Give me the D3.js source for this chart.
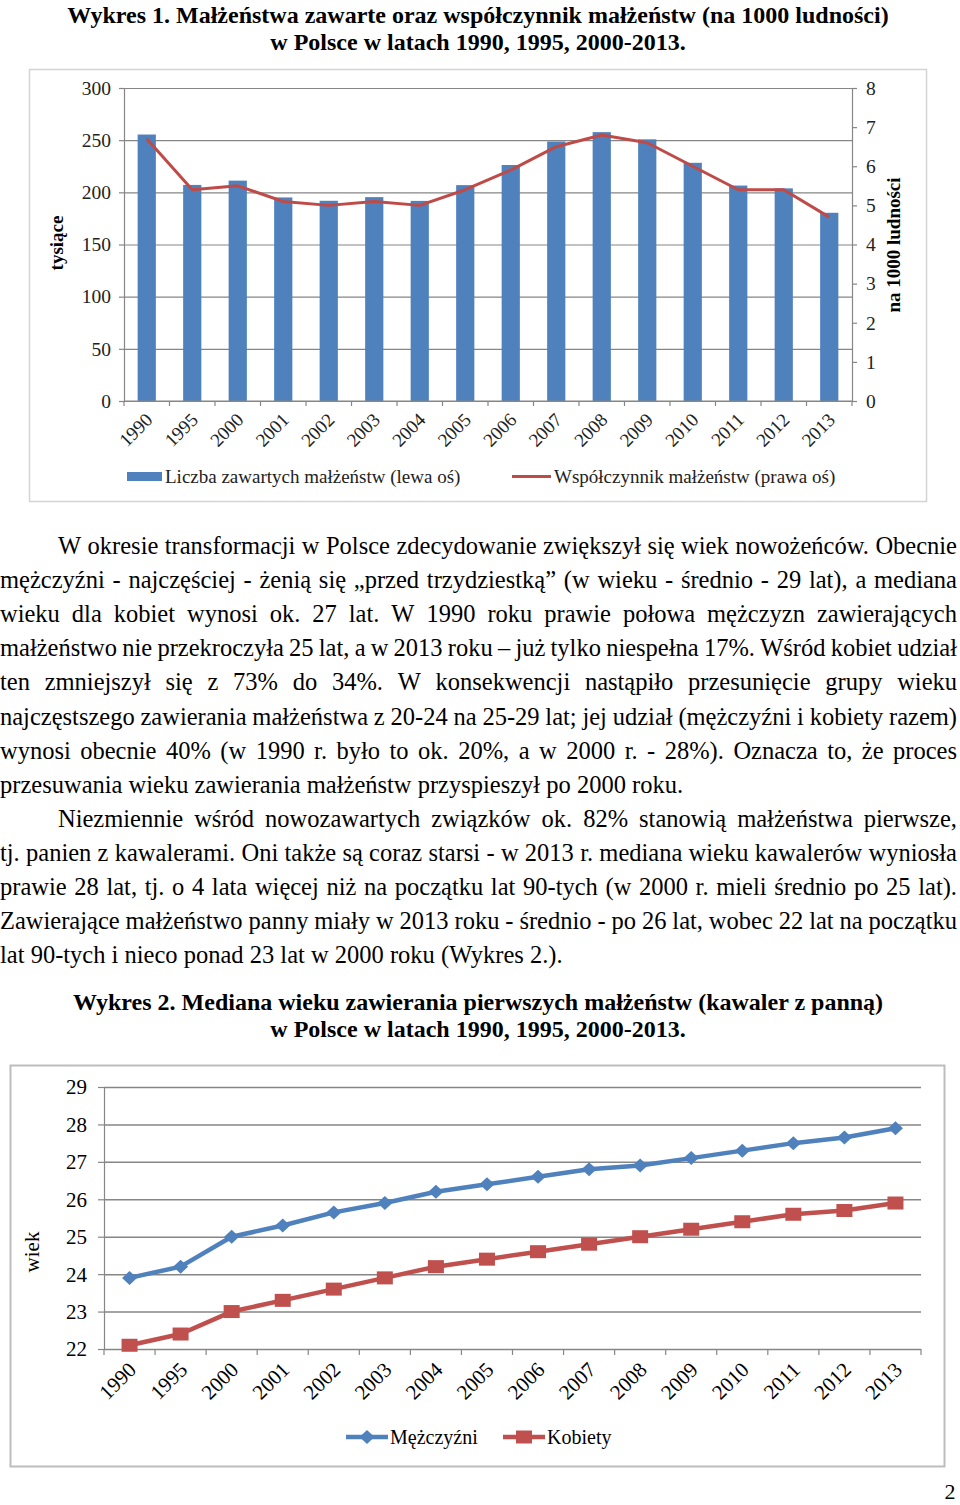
<!DOCTYPE html>
<html>
<head>
<meta charset="utf-8">
<script src="https://cdn.jsdelivr.net/npm/d3@7"></script>
<style>
  body { margin: 0; background: #fff; }
  svg { display: block; }
</style>
</head>
<body>
<svg id="page" width="960" height="1505"></svg>
<script>
// ---- data ----
const years = ["1990", "1995", "2000", "2001", "2002", "2003", "2004", "2005",
  "2006", "2007", "2008", "2009", "2010", "2011", "2012", "2013"];
// marriages contracted, thousands (left axis)
const marriages = [255.4, 207.1, 211.2, 195.1, 191.9, 195.4, 191.8, 206.9,
  226.2, 248.7, 257.7, 250.8, 228.3, 206.5, 203.8, 180.4];
// marriage rate per 1000 population (right axis)
const marriageRate = [6.7, 5.4, 5.5, 5.1, 5.0, 5.1, 5.0, 5.4,
  5.9, 6.5, 6.8, 6.6, 6.0, 5.4, 5.4, 4.7];
const leftTicks = [0, 50, 100, 150, 200, 250, 300];
const rightTicks = [0, 1, 2, 3, 4, 5, 6, 7, 8];

// median age at first marriage
const medianMen = [23.9, 24.2, 25.0, 25.3, 25.65, 25.9, 26.2, 26.4,
  26.6, 26.8, 26.9, 27.1, 27.3, 27.5, 27.65, 27.9];
const medianWomen = [22.1, 22.4, 23.0, 23.3, 23.6, 23.9, 24.2, 24.4,
  24.6, 24.8, 25.0, 25.2, 25.4, 25.6, 25.7, 25.9];
const ageTicks = [22, 23, 24, 25, 26, 27, 28, 29];

const title1 = ["Wykres 1. Małżeństwa zawarte oraz współczynnik małżeństw (na 1000 ludności)",
  "w Polsce w latach 1990, 1995, 2000-2013."];
const title2 = ["Wykres 2. Mediana wieku zawierania pierwszych małżeństw (kawaler z panną)",
  "w Polsce w latach 1990, 1995, 2000-2013."];
const legend1 = ["Liczba zawartych małżeństw (lewa oś)", "Współczynnik małżeństw (prawa oś)"];
const legend2 = ["Mężczyźni", "Kobiety"];

const bodyLines = [
  {text: "W okresie transformacji w Polsce zdecydowanie zwiększył się wiek nowożeńców. Obecnie", indent: true},
  {text: "mężczyźni - najczęściej - żenią się „przed trzydziestką” (w wieku - średnio - 29 lat), a mediana"},
  {text: "wieku dla kobiet wynosi ok. 27 lat. W 1990 roku prawie połowa mężczyzn zawierających"},
  {text: "małżeństwo nie przekroczyła 25 lat, a w 2013 roku – już tylko niespełna 17%. Wśród kobiet udział"},
  {text: "ten zmniejszył się z 73% do 34%. W konsekwencji nastąpiło przesunięcie grupy wieku"},
  {text: "najczęstszego zawierania małżeństwa z 20-24 na 25-29 lat; jej udział (mężczyźni i kobiety razem)"},
  {text: "wynosi obecnie 40% (w 1990 r. było to ok. 20%, a w 2000 r. - 28%). Oznacza to, że proces"},
  {text: "przesuwania wieku zawierania małżeństw przyspieszył po 2000 roku.", last: true},
  {text: "Niezmiennie wśród nowozawartych związków ok. 82% stanowią małżeństwa pierwsze,", indent: true},
  {text: "tj. panien z kawalerami. Oni także są coraz starsi - w 2013 r. mediana wieku kawalerów wyniosła"},
  {text: "prawie 28 lat, tj. o 4 lata więcej niż na początku lat 90-tych (w 2000 r. mieli średnio po 25 lat)."},
  {text: "Zawierające małżeństwo panny miały  w 2013 roku - średnio - po 26 lat, wobec 22 lat na początku"},
  {text: "lat 90-tych i nieco ponad 23 lat w 2000 roku (Wykres 2.).", last: true}
];

// ---- setup ----
const SERIF = "'Liberation Serif', 'Times New Roman', serif";
const GRID = "#868686";
const BLUE = "#4F81BD";
const RED = "#C0504D";

const svg = d3.select("#page").attr("font-family", SERIF);
svg.append("rect").attr("width", 960).attr("height", 1505).attr("fill", "#fff");

function label(parent, x, y, str, size, opts = {}) {
  const rot = opts.rotate || 0;
  return parent.append("text")
    .attr("transform", `translate(${x},${y}) rotate(${rot})`)
    .attr("text-anchor", opts.anchor || "start")
    .attr("font-size", size)
    .attr("font-weight", opts.bold ? "bold" : null)
    .attr("fill", opts.fill || "#000")
    .attr("dy", opts.dy || null)
    .text(str);
}

function styleAxis(g) {
  g.selectAll("path.domain").attr("stroke", GRID).attr("stroke-width", 1.2);
  g.selectAll(".tick line").attr("stroke", GRID).attr("stroke-width", 1.2);
}

// ---- titles ----
function drawTitle(lines, y0) {
  lines.forEach((t, i) => label(svg, 478, y0 + i * 27, t, 24, {anchor: "middle", bold: true}));
}
drawTitle(title1, 22.5);
drawTitle(title2, 1010);

// ======== Chart 1 ========
{
  const c = svg.append("g");
  c.append("rect").attr("x", 29.5).attr("y", 69.5).attr("width", 897).attr("height", 432)
    .attr("fill", "none").attr("stroke", "#d4d4d4").attr("stroke-width", 1.5);

  const x = d3.scaleBand(years, [124, 852]);
  const xBar = d3.scaleBand(years, [124, 852]).paddingInner(0.6).paddingOuter(0.3);
  const yL = d3.scaleLinear([0, 300], [401, 88]);
  const yR = d3.scaleLinear([0, 8], [401, 88]);

  // gridlines
  c.append("g").attr("transform", "translate(124,0)")
    .call(d3.axisLeft(yL).tickValues(leftTicks).tickSize(-(852 - 124)).tickFormat(""))
    .call(g => g.select(".domain").remove())
    .call(g => g.selectAll(".tick line").attr("stroke", GRID).attr("stroke-width", 1.2));

  // bars
  c.append("g").selectAll("rect").data(marriages).join("rect")
    .attr("x", (d, i) => xBar(years[i]))
    .attr("width", xBar.bandwidth())
    .attr("y", d => yL(d))
    .attr("height", d => yL(0) - yL(d))
    .attr("fill", BLUE);

  // left axis
  const la = c.append("g").attr("transform", "translate(124,0)")
    .call(d3.axisLeft(yL).tickValues(leftTicks).tickSize(5).tickSizeOuter(0).tickFormat(""));
  styleAxis(la);
  leftTicks.forEach(v => label(c, 111, yL(v), v, 19.5, {anchor: "end", dy: "0.35em", fill: "#222"}));

  // right axis
  const ra = c.append("g").attr("transform", "translate(852,0)")
    .call(d3.axisRight(yR).tickValues(rightTicks).tickSize(5).tickSizeOuter(0).tickFormat(""));
  styleAxis(ra);
  rightTicks.forEach(v => label(c, 866, yR(v), v, 19.5, {dy: "0.35em", fill: "#222"}));

  // x axis with ticks at the category boundaries
  c.append("line").attr("x1", 124).attr("x2", 852).attr("y1", 401).attr("y2", 401)
    .attr("stroke", GRID).attr("stroke-width", 1.2);
  c.append("g").selectAll("line").data(years.map(d => x(d)).concat([x.range()[1]])).join("line")
    .attr("x1", d => d).attr("x2", d => d).attr("y1", 401).attr("y2", 406)
    .attr("stroke", GRID).attr("stroke-width", 1.2);
  years.forEach(yr => label(c, x(yr) + x.bandwidth() / 2 + 7, 421, yr, 19,
    {anchor: "end", rotate: -45, fill: "#222"}));

  // rate line
  const line = d3.line()
    .x((d, i) => x(years[i]) + x.bandwidth() / 2)
    .y(d => yR(d));
  c.append("path").attr("d", line(marriageRate))
    .attr("fill", "none").attr("stroke", "#BE4B48").attr("stroke-width", 3)
    .attr("stroke-linejoin", "round");

  // axis titles
  label(c, 63, 243, "tysiące", 19, {anchor: "middle", rotate: -90, bold: true});
  label(c, 900, 245, "na  1000 ludności", 19, {anchor: "middle", rotate: -90, bold: true});

  // legend
  c.append("rect").attr("x", 127).attr("y", 472).attr("width", 35).attr("height", 9).attr("fill", BLUE);
  label(c, 165, 483, legend1[0], 19, {fill: "#222"});
  c.append("line").attr("x1", 512).attr("x2", 551).attr("y1", 476.5).attr("y2", 476.5)
    .attr("stroke", "#BE4B48").attr("stroke-width", 3);
  label(c, 554, 483, legend1[1], 19, {fill: "#222"});
}

// ======== body text (justified line by line) ========
{
  const fs = 24.5, lh = 34.1, y0 = 554, x0 = 0, x1 = 957;
  const g = svg.append("g").attr("font-size", fs).attr("fill", "#000");
  bodyLines.forEach((ln, i) => {
    const lx = x0 + (ln.indent ? 58 : 0);
    const words = ln.text.split(" ").filter(w => w);
    const row = g.append("g");
    const ts = words.map(w => row.append("text").text(w));
    const ws = ts.map(t => t.node().getComputedTextLength());
    const avail = x1 - lx;
    const total = d3.sum(ws);
    const sp = fs * 0.25;
    let gap = ln.last ? sp : (avail - total) / (words.length - 1);
    let k = 1;
    if (gap < sp * 0.6) {
      gap = sp * 0.6;
      k = avail / (total + gap * (words.length - 1));
    }
    let cx = 0;
    ts.forEach((t, j) => { t.attr("x", cx); cx += ws[j] + gap; });
    row.attr("transform", `translate(${lx},${y0 + i * lh}) scale(${k},1)`);
  });
}

// ======== Chart 2 ========
{
  const c = svg.append("g");
  c.append("rect").attr("x", 10.5).attr("y", 1065.5).attr("width", 934).attr("height", 401)
    .attr("fill", "none").attr("stroke", "#bdbdbd").attr("stroke-width", 2);

  const x = d3.scaleBand(years, [104, 921]);
  const y = d3.scaleLinear([22, 29], [1349, 1087]);

  c.append("g").attr("transform", "translate(104,0)")
    .call(d3.axisLeft(y).tickValues(ageTicks).tickSize(-(921 - 104)).tickFormat(""))
    .call(g => g.select(".domain").remove())
    .call(g => g.selectAll(".tick line").attr("stroke", GRID).attr("stroke-width", 1.5));

  const la = c.append("g").attr("transform", "translate(104,0)")
    .call(d3.axisLeft(y).tickValues(ageTicks).tickSize(6).tickSizeOuter(0).tickFormat(""));
  styleAxis(la);
  ageTicks.forEach(v => label(c, 87, y(v), v, 21, {anchor: "end", dy: "0.35em"}));

  c.append("g").selectAll("line").data(years.map(d => x(d)).concat([x.range()[1]])).join("line")
    .attr("x1", d => d).attr("x2", d => d).attr("y1", 1349).attr("y2", 1355)
    .attr("stroke", GRID).attr("stroke-width", 1.2);
  years.forEach(yr => label(c, x(yr) + x.bandwidth() / 2 + 8, 1371, yr, 21,
    {anchor: "end", rotate: -45}));

  label(c, 39, 1252, "wiek", 21, {anchor: "middle", rotate: -90});

  const cx = (d, i) => x(years[i]) + x.bandwidth() / 2;
  const line = d3.line().x(cx).y(d => y(d));
  const diamond = (px, py) => `M${px},${py - 7}L${px + 7.5},${py}L${px},${py + 7}L${px - 7.5},${py}Z`;

  c.append("path").attr("d", line(medianMen)).attr("fill", "none")
    .attr("stroke", BLUE).attr("stroke-width", 4.5).attr("stroke-linejoin", "round");
  c.append("g").selectAll("path").data(medianMen).join("path")
    .attr("d", (d, i) => diamond(cx(d, i), y(d))).attr("fill", BLUE);

  c.append("path").attr("d", line(medianWomen)).attr("fill", "none")
    .attr("stroke", RED).attr("stroke-width", 4.5).attr("stroke-linejoin", "round");
  c.append("g").selectAll("rect").data(medianWomen).join("rect")
    .attr("x", (d, i) => cx(d, i) - 8).attr("y", d => y(d) - 6.5)
    .attr("width", 16).attr("height", 13).attr("fill", RED);

  // legend
  c.append("line").attr("x1", 346).attr("x2", 388).attr("y1", 1437).attr("y2", 1437)
    .attr("stroke", BLUE).attr("stroke-width", 4.5);
  c.append("path").attr("d", diamond(367, 1437)).attr("fill", BLUE);
  label(c, 390, 1444, legend2[0], 20);
  c.append("line").attr("x1", 503).attr("x2", 545).attr("y1", 1437).attr("y2", 1437)
    .attr("stroke", RED).attr("stroke-width", 4.5);
  c.append("rect").attr("x", 516).attr("y", 1430.5).attr("width", 16).attr("height", 13).attr("fill", RED);
  label(c, 547, 1444, legend2[1], 20);
}

// page number
label(svg, 950, 1499, "2", 22, {anchor: "middle"});
</script>
</body>
</html>
